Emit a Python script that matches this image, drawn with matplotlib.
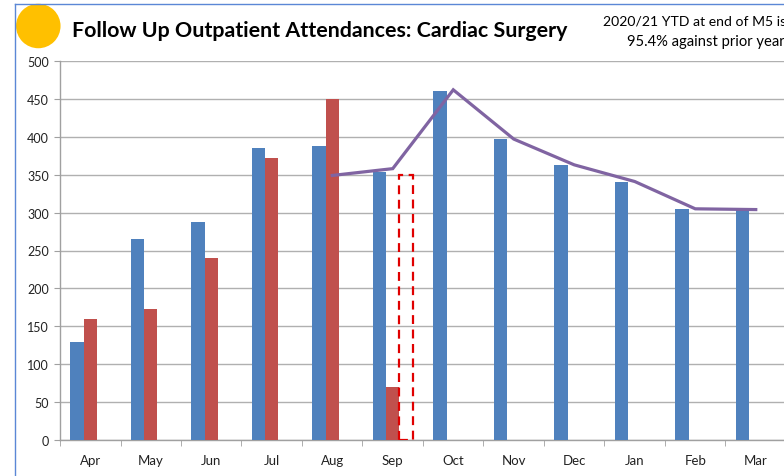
import matplotlib
matplotlib.use("Agg")
import matplotlib.pyplot as plt
import numpy as np
from matplotlib.patches import Ellipse
from matplotlib.lines import Line2D

months = ["Apr", "May", "Jun", "Jul", "Aug", "Sep", "Oct", "Nov", "Dec", "Jan", "Feb", "Mar"]
prior_year = [129, 265, 287, 385, 388, 354, 460, 397, 363, 340, 305, 303]
current_year = [160, 173, 240, 372, 450, 70, None, None, None, None, None, None]
forecast = [None, None, None, None, None, 350, None, None, None, None, None, None]
trend = [None, None, None, None, 349, 358, 462, 397, 363, 341, 305, 304]
yticks = [0, 50, 100, 150, 200, 250, 300, 350, 400, 450, 500]

plt.rcParams['font.family'] = ['Lato', 'DejaVu Sans']

W, H = 784, 477
fig = plt.figure(figsize=(W / 100, H / 100), dpi=100)
ax = fig.add_axes([60 / W, (H - 441) / H, 726 / W, 379 / H])

x = np.arange(len(months))
bw = 0.223
blue = "#4F81BD"
red = "#C0504D"
purple = "#8064A2"

ax.bar(x - bw, prior_year, width=bw, color=blue, zorder=3)
cy_x = [xi for xi, v in zip(x, current_year) if v is not None]
cy_v = [v for v in current_year if v is not None]
ax.bar(np.array(cy_x), cy_v, width=bw, color=red, zorder=3)
fc_x = [xi for xi, v in zip(x, forecast) if v is not None]
fc_v = [v for v in forecast if v is not None]
ax.bar(np.array(fc_x) + bw, fc_v, width=bw, facecolor="none", edgecolor="#E00000",
       linestyle=(0, (4, 2.5)), linewidth=1.6, zorder=3)
tr_x = [xi for xi, v in zip(x, trend) if v is not None]
tr_v = [v for v in trend if v is not None]
ax.plot(tr_x, tr_v, color=purple, linewidth=2.3, zorder=4, solid_joinstyle="miter")

ax.set_xlim(-0.5, len(months) - 0.5)
ax.set_ylim(0, 500)
ax.set_yticks(yticks)
ax.set_yticklabels([str(t) for t in yticks], fontsize=9, color="#222222")
ax.set_xticks(x)
ax.set_xticklabels(months, fontsize=9.5, color="#222222")
ax.set_xticks(np.arange(-0.5, len(months) + 0.5, 1), minor=True)
ax.tick_params(axis="x", which="major", length=0, pad=10)
ax.tick_params(axis="x", which="minor", length=4, color="#A0A0A0", direction="out")
ax.tick_params(axis="y", length=4, color="#A0A0A0", direction="out", pad=4)
ax.yaxis.grid(True, color="#B0B0B0", linewidth=1.0, zorder=0)
ax.set_axisbelow(True)
for s in ["top", "right"]:
    ax.spines[s].set_visible(False)
for s in ["left", "bottom"]:
    ax.spines[s].set_color("#A0A0A0")
    ax.spines[s].set_linewidth(1.0)

# decorations
fig.add_artist(Ellipse((38.3 / W, 1 - 27 / H), 44.5 / W, 44.5 / H, transform=fig.transFigure,
                       facecolor="#FFC000", edgecolor="none"))
fig.add_artist(Line2D([15 / W, 15 / W], [0, 1 - 5 / H], transform=fig.transFigure,
                      color="#5B87D6", linewidth=1.0))
fig.add_artist(Line2D([15 / W, 1], [1 - 5 / H, 1 - 5 / H], transform=fig.transFigure,
                      color="#5B87D6", linewidth=1.0))
fig.text(72 / W, 1 - 31 / H, "Follow Up Outpatient Attendances: Cardiac Surgery",
         fontsize=15.4, fontweight="bold", ha="left", va="center", color="#000000")
fig.text(603 / W, 1 - 21 / H, "2020/21 YTD at end of M5 is", fontsize=10.1,
         ha="left", va="center", color="#000000")
fig.text(627 / W, 1 - 42 / H, "95.4% against prior year", fontsize=10.6,
         ha="left", va="center", color="#000000")

fig.savefig("out.png", dpi=100)
